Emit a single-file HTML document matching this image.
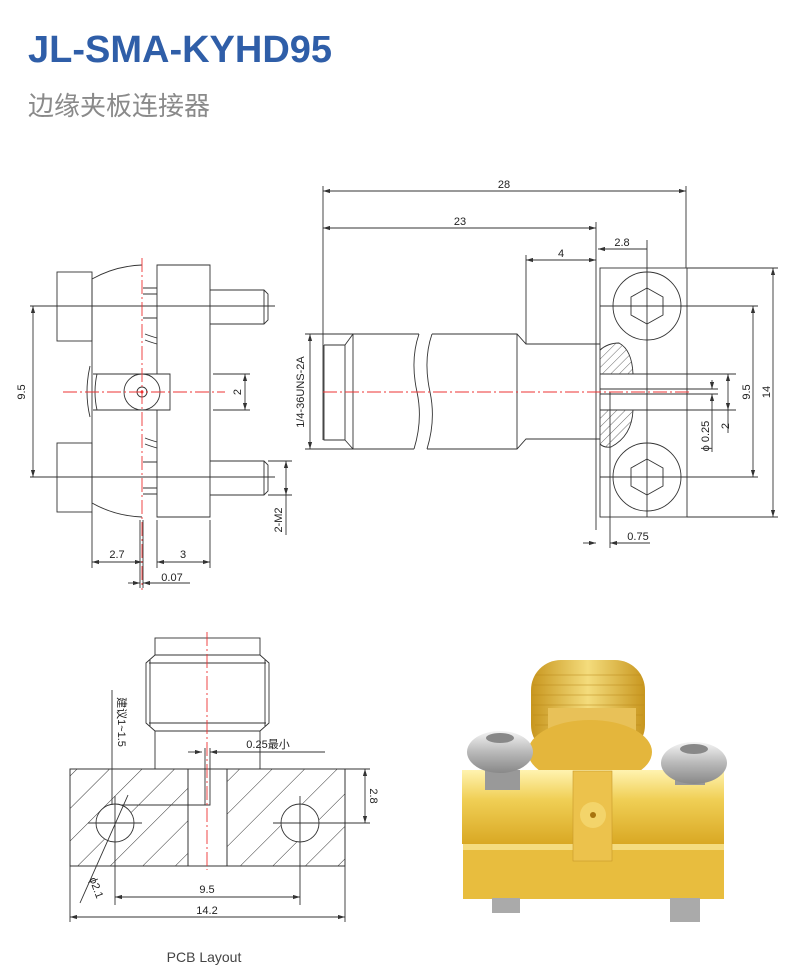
<!DOCTYPE html>
<html><head><meta charset="utf-8"><style>
html,body{margin:0;padding:0;background:#fff;}
body{width:800px;height:978px;position:relative;overflow:hidden;font-family:"Liberation Sans","Noto Sans CJK SC",sans-serif;}
.t{position:absolute;left:28px;top:29px;font-size:38px;color:#2f5ea8;font-weight:bold;}
.s{position:absolute;left:28px;top:86px;font-size:26px;color:#8a8a8a;}
svg{position:absolute;left:0;top:0;}
</style></head><body>
<div class="t">JL-SMA-KYHD95</div>
<div class="s">边缘夹板连接器</div>
<svg width="800" height="978" viewBox="0 0 800 978" font-family="Liberation Sans, Noto Sans CJK SC, sans-serif" font-size="11">
<defs>
<marker id="a" viewBox="0 0 10 6" refX="10" refY="3" markerWidth="8" markerHeight="5" orient="auto-start-reverse"><path d="M0,0L10,3L0,6z" fill="#333"/></marker>
<pattern id="h" width="23" height="23" patternUnits="userSpaceOnUse" patternTransform="rotate(45)"><line x1="0" y1="0" x2="0" y2="23" stroke="#333" stroke-width="1"/></pattern>
<pattern id="h2" width="6" height="6" patternUnits="userSpaceOnUse" patternTransform="rotate(45)"><line x1="0" y1="0" x2="0" y2="6" stroke="#444" stroke-width="0.8"/></pattern>
<linearGradient id="g1" x1="0" y1="0" x2="0" y2="1"><stop offset="0" stop-color="#fff3b0"/><stop offset="0.4" stop-color="#f0cf55"/><stop offset="1" stop-color="#d9a824"/></linearGradient>
<linearGradient id="g2" x1="0" y1="0" x2="1" y2="0"><stop offset="0" stop-color="#c8961e"/><stop offset="0.5" stop-color="#f4dc7c"/><stop offset="1" stop-color="#c8961e"/></linearGradient>
<linearGradient id="sv" x1="0" y1="0" x2="0" y2="1"><stop offset="0" stop-color="#f4f4f4"/><stop offset="0.5" stop-color="#b9b9b9"/><stop offset="1" stop-color="#888"/></linearGradient>
<clipPath id="c1"><path d="M600,350 Q608,343 619,343 Q632,350 633,374 H600Z M600,410 H633 Q632,436 611,447 Q604,448 600,444Z"/></clipPath>
</defs>
<g stroke="#333" stroke-width="0.9" fill="none">
<rect x="57" y="272" width="35" height="69"/>
<rect x="57" y="443" width="35" height="69"/>
<path d="M92,279 Q115,266 142,265 M92,503 Q115,516 142,517 M92,279 V503"/>
<path d="M157,265 H210 V517 H157 V410 H170 V374 H157 Z"/>
<path d="M210,290 H264 L268,294 V320 L264,324 H210 M264,290 V324"/>
<path d="M210,461 H264 L268,465 V491 L264,495 H210 M264,461 V495"/>
<path d="M143,288 H157 M143,294 H157 M143,488 H157 M143,494 H157 M143,318 H157 M143,462 H157"/>
<path d="M145,334 Q150,336 157,338 M145,340 Q150,342 157,344 M145,438 Q150,440 157,442 M145,444 Q150,446 157,448"/>
<path d="M93,374 H157 M93,410 H157 M97,374 Q93,392 97,410 M90,366 Q84,392 90,417"/>
<circle cx="142" cy="392" r="18"/><circle cx="142" cy="392" r="5"/>
<path d="M30,306 H275 M30,477 H275"/>
<path d="M33,306 V477" marker-start="url(#a)" marker-end="url(#a)"/>
<path d="M213,374 H250 M213,410 H250"/><path d="M245,374 V410" marker-start="url(#a)" marker-end="url(#a)"/>
<path d="M268,461 H292 M268,495 H292"/><path d="M286,461 V495" marker-start="url(#a)" marker-end="url(#a)"/><path d="M286,495 V535"/>
<path d="M92,512 V568 M157,520 V568 M210,520 V568 M143,520 V588 M140,520 V588"/>
<path d="M92,562 H142" marker-start="url(#a)" marker-end="url(#a)"/>
<path d="M157,562 H210" marker-start="url(#a)" marker-end="url(#a)"/>
<path d="M128,583 H140" marker-end="url(#a)"/><path d="M190,583 H143" marker-end="url(#a)"/>
<path d="M323,186 V440 M686,186 V268 M596,222 V530 M526,255 V344 M647,240 V517"/>
<path d="M323,191 H686" marker-start="url(#a)" marker-end="url(#a)"/>
<path d="M323,228 H596" marker-start="url(#a)" marker-end="url(#a)"/>
<path d="M526,260 H596" marker-start="url(#a)" marker-end="url(#a)"/>
<path d="M598,249 H647" marker-start="url(#a)"/>
<rect x="600" y="268" width="87" height="249"/>
<path d="M687,268 H778 M687,517 H778"/><path d="M773,268 V517" marker-start="url(#a)" marker-end="url(#a)"/>
<path d="M600,306 H758 M600,477 H758"/><path d="M753,306 V477" marker-start="url(#a)" marker-end="url(#a)"/>
<circle cx="647" cy="306" r="34"/><circle cx="647" cy="477" r="34"/>
<polygon points="647,288 663,297 663,315 647,324 631,315 631,297"/>
<polygon points="647,459 663,468 663,486 647,495 631,486 631,468"/>
<path d="M305,334 H419 M305,449 H414 M324,345 V440 H345 M324,345 H345 V440 M345,345 L353,334 M345,440 L353,449 M353,334 V449"/>
<path d="M419,334 Q410,360 417,392 Q423,420 414,449"/>
<path d="M432,334 Q423,360 430,392 Q436,420 427,449"/>
<path d="M432,334 H517 L526,344 H600 M427,449 H517 L526,439 H600 M517,334 V449"/>
<path d="M310,334 V449" marker-start="url(#a)" marker-end="url(#a)"/>
<path d="M600,374 H736 M600,410 H736 M600,389 H718 M600,394 H718"/>
<path d="M600,350 Q608,343 619,343 Q632,350 633,374 M633,410 Q632,436 611,447 Q604,448 600,444"/>
<rect x="598" y="340" width="40" height="110" fill="url(#h2)" stroke="none" clip-path="url(#c1)"/>
<path d="M728,374 V410" marker-start="url(#a)" marker-end="url(#a)"/><path d="M728,410 V433"/>
<path d="M712,380 V389" marker-end="url(#a)"/><path d="M712,403 V394" marker-end="url(#a)"/><path d="M712,394 V452"/>
<path d="M610,392 V548"/><path d="M583,543 H596" marker-end="url(#a)"/><path d="M650,543 H610" marker-end="url(#a)"/>
<rect x="70" y="769" width="275" height="97" fill="url(#h)"/>
<rect x="188" y="769" width="39" height="97" fill="#fff"/>
<path d="M70,769 H345 V866 H70 Z M188,769 V866 M227,769 V866"/>
<path d="M112,805 H210 V748 M205,748 V805"/>
<circle cx="115" cy="823" r="19" fill="#fff"/><circle cx="300" cy="823" r="19" fill="#fff"/>
<path d="M88,823 H142 M115,796 V905 M273,823 H370 M300,796 V905 M345,866 V922 M70,866 V922"/>
<path d="M345,769 H370"/><path d="M365,769 V823" marker-start="url(#a)" marker-end="url(#a)"/>
<path d="M115,897 H300" marker-start="url(#a)" marker-end="url(#a)"/>
<path d="M70,917 H345" marker-start="url(#a)" marker-end="url(#a)"/>
<path d="M112,690 V805"/>
<path d="M80,903 L128,795"/>
<path d="M188,752 H202" marker-end="url(#a)"/><path d="M325,752 H210" marker-end="url(#a)"/>
<rect x="155" y="638" width="105" height="17"/>
<path d="M155,655 L146,663 V723 L155,731 H260 L269,723 V663 L260,655 Z M149,663 H266 M149,723 H266 M150,660 V726 M265,660 V726"/>
<path d="M155,731 V769 M260,731 V769"/>
</g>
<g stroke="#e33" stroke-width="0.9" stroke-dasharray="14,3,2,3" fill="none">
<path d="M142,258 V590"/><path d="M63,392 H225"/>
<path d="M323,392 H692"/>
<path d="M207,632 V870"/>
</g>
<circle cx="142" cy="392" r="1.5" fill="#e33"/>
<g fill="#222" font-size="11">
<text x="25" y="392" transform="rotate(-90 25 392)" text-anchor="middle">9.5</text>
<text x="241" y="392" transform="rotate(-90 241 392)" text-anchor="middle">2</text>
<text x="282" y="520" transform="rotate(-90 282 520)" text-anchor="middle">2-M2</text>
<text x="117" y="558" text-anchor="middle">2.7</text>
<text x="183" y="558" text-anchor="middle">3</text>
<text x="172" y="581" text-anchor="middle">0.07</text>
<text x="504" y="188" text-anchor="middle">28</text>
<text x="460" y="225" text-anchor="middle">23</text>
<text x="561" y="257" text-anchor="middle">4</text>
<text x="622" y="246" text-anchor="middle">2.8</text>
<text x="304" y="392" transform="rotate(-90 304 392)" text-anchor="middle">1/4-36UNS-2A</text>
<text x="750" y="392" transform="rotate(-90 750 392)" text-anchor="middle">9.5</text>
<text x="770" y="392" transform="rotate(-90 770 392)" text-anchor="middle">14</text>
<text x="709" y="436" transform="rotate(-90 709 436)" text-anchor="middle">ϕ 0.25</text>
<text x="729" y="426" transform="rotate(-90 729 426)" text-anchor="middle">2</text>
<text x="638" y="540" text-anchor="middle">0.75</text>
<text x="370" y="796" transform="rotate(90 370 796)" text-anchor="middle">2.8</text>
<text x="207" y="893" text-anchor="middle">9.5</text>
<text x="207" y="914" text-anchor="middle">14.2</text>
<text x="268" y="748" text-anchor="middle">0.25最小</text>
<text x="118" y="722" transform="rotate(90 118 722)" text-anchor="middle">建议1~1.5</text>
<text x="93" y="889" transform="rotate(70 93 889)" text-anchor="middle">ϕ2.1</text>
</g>
<text x="204" y="962" text-anchor="middle" font-size="14" fill="#444">PCB Layout</text>
<rect x="531" y="660" width="114" height="95" rx="30" fill="url(#g2)"/>
<g stroke="#b9881a" stroke-width="0.6"><path d="M535,675 H641 M533,685 H643 M532,695 H644 M532,705 H644 M533,715 H643 M535,725 H641"/></g>
<rect x="548" y="708" width="88" height="30" fill="#e8c158"/>
<ellipse cx="590" cy="752" rx="62" ry="32" fill="#e4b63c"/>
<rect x="462" y="770" width="262" height="74" fill="url(#g1)"/>
<rect x="463" y="844" width="261" height="55" fill="#e8bd3e"/>
<rect x="463" y="844" width="261" height="6" fill="#f5dc80"/>
<rect x="573" y="771" width="39" height="90" fill="#ecc24c" stroke="#c9982a" stroke-width="0.6"/>
<circle cx="593" cy="815" r="13" fill="#f3d46a"/><circle cx="593" cy="815" r="3" fill="#a8740e"/>
<rect x="485" y="770" width="35" height="20" fill="#999"/>
<ellipse cx="500" cy="752" rx="33" ry="21" fill="url(#sv)"/>
<ellipse cx="500" cy="738" rx="14" ry="5" fill="#888"/>
<rect x="675" y="770" width="30" height="15" fill="#999"/>
<ellipse cx="694" cy="763" rx="33" ry="21" fill="url(#sv)"/>
<ellipse cx="694" cy="749" rx="14" ry="5" fill="#888"/>
<rect x="492" y="898" width="28" height="15" fill="#aaa"/>
<rect x="670" y="898" width="30" height="24" fill="#aaa"/>
</svg>
</body></html>
